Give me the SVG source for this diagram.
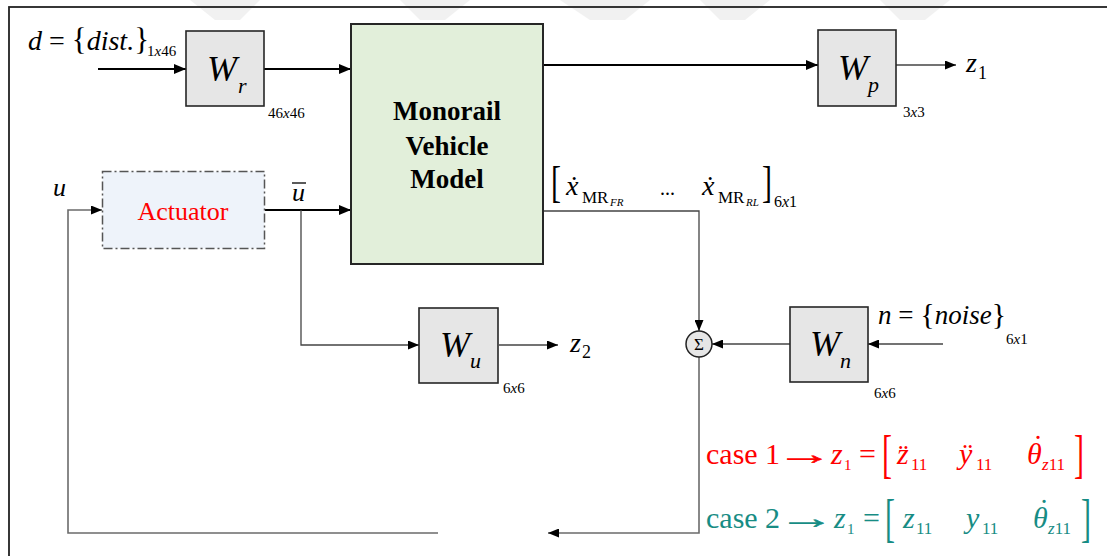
<svg xmlns="http://www.w3.org/2000/svg" width="1107" height="556" viewBox="0 0 1107 556" font-family="'Liberation Serif', 'Times New Roman', serif">
<defs>
<marker id="ah" markerWidth="12" markerHeight="10" refX="12" refY="5" orient="auto" markerUnits="userSpaceOnUse"><path d="M0,0 L12,5 L0,10 Z" fill="#000"/></marker>
<marker id="ahs" markerWidth="11" markerHeight="9" refX="11" refY="4.5" orient="auto" markerUnits="userSpaceOnUse"><path d="M0,0 L11,4.5 L0,9 Z" fill="#000"/></marker>
</defs>
<style>
.t{font-family:"Liberation Serif","Times New Roman",serif;fill:#000}
.i{font-style:italic}
.blk{fill:#e6e6e6;stroke:#262626;stroke-width:1.6}
.thick{fill:none;stroke:#000;stroke-width:2}
.thin{fill:none;stroke:#444;stroke-width:1.3}
.fb{fill:none;stroke:#6b6b6b;stroke-width:1.6}
.sz{font-size:15px}
.red{fill:#ff0000}
.teal{fill:#178c84}
</style>
<rect width="1107" height="556" fill="#fff"/>
<g id="watermark" fill="#f1f1f1">
<polygon points="190,0 260,0 240,20 215,20"/>
<polygon points="400,0 470,0 445,20 420,20"/>
<polygon points="560,0 650,0 625,20 590,20"/>
<polygon points="700,0 770,0 745,20 720,20"/>
<polygon points="880,0 950,0 925,20 900,20"/>
</g>
<rect id="frame" x="9" y="7" width="1120" height="570" fill="none" stroke="#222" stroke-width="1.8"/>

<g id="connectors">
<path class="thick" d="M98,69 H186" marker-end="url(#ah)"/>
<path class="thick" d="M264,69 H351" marker-end="url(#ah)"/>
<path class="thick" d="M543,65 H818" marker-end="url(#ah)"/>
<path class="thin" d="M896,65 H956" marker-end="url(#ahs)"/>
<path class="fb" d="M438,533 H68 V210 H102" marker-end="url(#ahs)"/>
<path class="thick" d="M265,210 H351" marker-end="url(#ah)"/>
<path class="thin" d="M301,210 V345 H419" marker-end="url(#ahs)"/>
<path class="thin" d="M499,345 H558" marker-end="url(#ahs)"/>
<path class="thin" d="M543,211 H699 V331" marker-end="url(#ahs)"/>
<path class="thin" d="M943,344 H868" marker-end="url(#ahs)"/>
<path class="thin" d="M790,344 H712" marker-end="url(#ahs)"/>
<path class="fb" d="M699,357 V533 H548" marker-end="url(#ahs)"/>
</g>

<g id="Wr">
<rect x="186" y="31" width="78" height="75" class="blk"/>
<text class="t i" x="207" y="81" font-size="36">W</text>
<text class="t i" x="238" y="93" font-size="22">r</text>
<text class="t sz" x="268" y="118">46<tspan class="i">x</tspan>46</text>
</g>

<g id="model">
<rect x="351" y="24" width="192" height="240" fill="#e2efda" stroke="#262626" stroke-width="2"/>
<text class="t" x="447" y="120" font-size="27" font-weight="bold" text-anchor="middle">Monorail</text>
<text class="t" x="447" y="155" font-size="27" font-weight="bold" text-anchor="middle">Vehicle</text>
<text class="t" x="447" y="188" font-size="27" font-weight="bold" text-anchor="middle">Model</text>
</g>

<g id="Wp">
<rect x="818" y="30" width="78" height="76" class="blk"/>
<text class="t i" x="838" y="80" font-size="36">W</text>
<text class="t i" x="868" y="92" font-size="22">p</text>
<text class="t sz" x="903" y="117">3<tspan class="i">x</tspan>3</text>
</g>

<g id="actuator">
<rect x="102.5" y="171.5" width="162" height="77" fill="#eef3fa" stroke="#555" stroke-width="1.5" stroke-dasharray="9 3 2 3"/>
<text class="t red" x="183" y="220" font-size="26" text-anchor="middle">Actuator</text>
</g>

<g id="Wu">
<rect x="419" y="308" width="79" height="75" class="blk"/>
<text class="t i" x="440" y="357" font-size="36">W</text>
<text class="t i" x="470" y="368" font-size="22">u</text>
<text class="t sz" x="503" y="393">6<tspan class="i">x</tspan>6</text>
</g>

<g id="sum">
<circle cx="699" cy="344" r="13" fill="#e6e6e6" stroke="#222" stroke-width="1.5"/>
<text class="t" x="699" y="350" font-size="17" text-anchor="middle">Σ</text>
</g>

<g id="Wn">
<rect x="790" y="307" width="78" height="75" class="blk"/>
<text class="t i" x="810" y="356" font-size="36">W</text>
<text class="t i" x="840" y="368" font-size="22">n</text>
<text class="t sz" x="874" y="398">6<tspan class="i">x</tspan>6</text>
</g>

<g id="labels">
<text class="t" x="28" y="50" font-size="28"><tspan class="i">d</tspan> = <tspan font-size="31">{</tspan><tspan class="i">dist.</tspan><tspan font-size="31">}</tspan></text>
<text class="t sz" x="147" y="56">1<tspan class="i">x</tspan>46</text>
<text class="t i" x="966" y="72" font-size="28">z</text>
<text class="t" x="978" y="79" font-size="18">1</text>
<text class="t i" x="53" y="196" font-size="26">u</text>
<text class="t i" x="292" y="201" font-size="26">u</text>
<line x1="292" y1="183" x2="306" y2="183" stroke="#000" stroke-width="1.3"/>
<text class="t i" x="570" y="352" font-size="28">z</text>
<text class="t" x="582" y="358" font-size="18">2</text>
<text class="t" x="878" y="324" font-size="27"><tspan class="i">n</tspan> = <tspan font-size="30">{</tspan><tspan class="i">noise</tspan><tspan font-size="30">}</tspan></text>
<text class="t sz" x="1006" y="344">6<tspan class="i">x</tspan>1</text>

<text class="t" font-size="30" transform="translate(551,197) scale(1,1.5)">[</text>
<text class="t i" x="566" y="195" font-size="28">ẋ</text>
<text class="t" x="582" y="203" font-size="17">MR</text>
<text class="t i" x="610" y="206" font-size="11">FR</text>
<text class="t" x="660" y="195" font-size="20">...</text>
<text class="t i" x="702" y="195" font-size="28">ẋ</text>
<text class="t" x="718" y="203" font-size="17">MR</text>
<text class="t i" x="746" y="206" font-size="11">RL</text>
<text class="t" font-size="30" transform="translate(762,197) scale(1,1.5)">]</text>
<text class="t" x="774" y="207" font-size="16">6<tspan class="i">x</tspan>1</text>
</g>

<g id="cases">
<g class="red">
<text class="t red" x="706" y="464" font-size="30">case 1</text>
<text class="t red" font-size="30" stroke="#ff0000" stroke-width="0.5" transform="translate(776,464) scale(1.9,1)">→</text>
<text class="t red i" x="831" y="464" font-size="30">z</text>
<text class="t red" x="844" y="470" font-size="15">1</text>
<text class="t red" x="859" y="464" font-size="30">=</text>
<text class="t red" font-size="30" transform="translate(882,472) scale(1,1.75)">[</text>
<text class="t red i" x="897" y="464" font-size="30">z̈</text>
<text class="t red" x="911" y="470" font-size="17">11</text>
<text class="t red i" x="959" y="464" font-size="30">ÿ</text>
<text class="t red" x="976" y="470" font-size="17">11</text>
<text class="t red i" x="1027" y="464" font-size="30">θ</text>
<text class="t red" x="1033" y="456" font-size="30">˙</text>
<text class="t red" x="1042" y="470" font-size="17"><tspan class="i">z</tspan>11</text>
<text class="t red" font-size="30" transform="translate(1074,472) scale(1,1.75)">]</text>
</g>
<g class="teal">
<text class="t teal" x="706" y="528" font-size="30">case 2</text>
<text class="t teal" font-size="30" stroke="#178c84" stroke-width="0.5" transform="translate(778,528) scale(1.9,1)">→</text>
<text class="t teal i" x="834" y="528" font-size="30">z</text>
<text class="t teal" x="847" y="534" font-size="15">1</text>
<text class="t teal" x="863" y="528" font-size="30">=</text>
<text class="t teal" font-size="30" transform="translate(885,536) scale(1,1.75)">[</text>
<text class="t teal i" x="903" y="528" font-size="30">z</text>
<text class="t teal" x="916" y="534" font-size="17">11</text>
<text class="t teal i" x="966" y="528" font-size="30">y</text>
<text class="t teal" x="982" y="534" font-size="17">11</text>
<text class="t teal i" x="1033" y="528" font-size="30">θ</text>
<text class="t teal" x="1039" y="520" font-size="30">˙</text>
<text class="t teal" x="1048" y="534" font-size="17"><tspan class="i">z</tspan>11</text>
<text class="t teal" font-size="30" transform="translate(1081,536) scale(1,1.75)">]</text>
</g>
</g>
</svg>
